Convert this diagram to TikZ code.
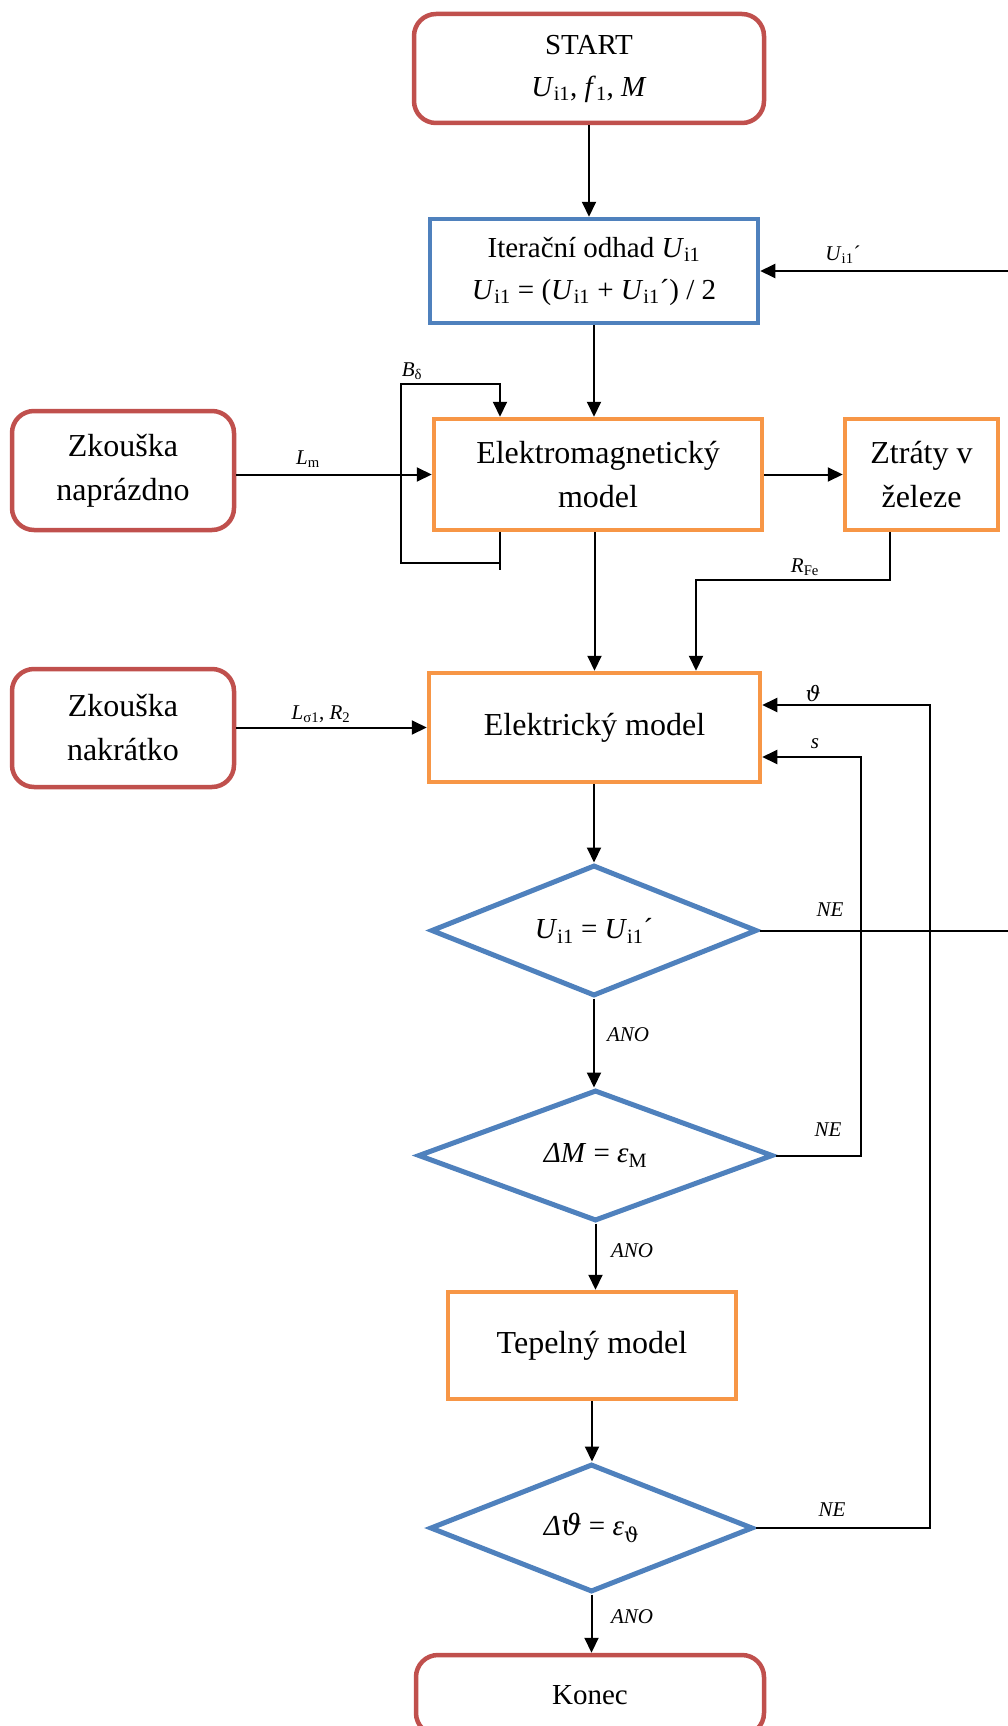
\documentclass[tikz,border=0pt]{standalone}
\usepackage{fontspec}
\setmainfont{Liberation Serif}
\newfontfamily\dvs{DejaVu Serif}
\usetikzlibrary{arrows.meta,shapes.geometric,calc}
\definecolor{cred}{HTML}{C0504D}
\definecolor{cblue}{HTML}{4F81BD}
\definecolor{corange}{HTML}{F79646}
\newcommand\Uii{\textit{U}\textsubscript{i1}}
\newcommand\bigtxt{\fontsize{32}{44}\selectfont}
\newcommand\smtxt{\fontsize{29}{42}\selectfont}
\begin{document}
\begin{tikzpicture}[x=1pt,y=-1pt,
  termbox/.style={draw=cred, line width=4.5pt, rounded corners=22pt, align=center, inner sep=0pt},
  procbox/.style={draw=corange, line width=4.5pt, align=center, inner sep=0pt},
  iterbox/.style={draw=cblue, line width=4.5pt, align=center, inner sep=0pt},
  decision/.style={diamond, draw=cblue, line width=5pt, aspect=2.4, inner sep=0pt, font=\smtxt},
  conn/.style={line width=2pt, -{Triangle[length=15pt,width=14pt]}},
  plainline/.style={line width=2pt},
  lbl/.style={font=\fontsize{21}{24}\selectfont, inner sep=0pt}]
\useasboundingbox (0,0) rectangle (1007,1726);

% nodes
\node[termbox, font=\smtxt, minimum width=350pt, minimum height=109pt] (start) at (589,68.5) {START\\\Uii, \textit{f}\textsubscript{1}, \textit{M}};
\node[iterbox, font=\smtxt, minimum width=328pt, minimum height=104pt] (iter) at (594,271) {Iterační odhad \Uii\\\Uii{} = (\Uii{} + \Uii´) / 2};
\node[termbox, font=\bigtxt, minimum width=222pt, minimum height=119pt] (napr) at (123,470.5) {Zkouška\\naprázdno};
\node[procbox, font=\bigtxt, minimum width=328pt, minimum height=111pt] (em) at (598,474.5) {Elektromagnetický\\model};
\node[procbox, font=\bigtxt, minimum width=153pt, minimum height=111pt] (zt) at (921.5,474.5) {Ztráty v\\železe};
\node[termbox, font=\bigtxt, minimum width=222pt, minimum height=118pt] (nakr) at (123,728) {Zkouška\\nakrátko};
\node[procbox, font=\bigtxt, minimum width=331pt, minimum height=109pt] (el) at (594.5,727.5) {Elektrický model};
\node[decision, minimum width=326pt, minimum height=131pt] (d1) at (594,930.5) {\Uii{} = \Uii´};
\node[decision, minimum width=355pt, minimum height=131pt] (d2) at (595.5,1155.5) {\textit{ΔM} = \textit{ε}\textsubscript{M}};
\node[procbox, font=\bigtxt, minimum width=288pt, minimum height=107pt] (tep) at (592,1345.5) {Tepelný model};
\node[decision, minimum width=323pt, minimum height=128pt] (d3) at (591.5,1528) {\textit{Δ}{\dvs\itshape ϑ} = \textit{ε}\textsubscript{\dvs ϑ}};
\node[termbox, font=\smtxt, minimum width=348pt, minimum height=80pt] (konec) at (590,1695) {Konec};

% helper coordinates
\coordinate (r1) at (1012,0);
\coordinate (bA) at (500,570);
\coordinate (bB) at (500,563);
\coordinate (bC) at (401,563);
\coordinate (bD) at (401,384);
\coordinate (bE) at (500,384);
\coordinate (f1) at (890,580);
\coordinate (f2) at (696,580);
\coordinate (s2) at (861,757);
\coordinate (t2) at (930,705);

% connectors
\draw[conn] (start.south) -- (start.south |- iter.north);
\draw[conn] (iter.south) -- (iter.south |- em.north);
\draw[conn] (d1.east) -- (d1.east -| r1) -- (iter.east -| r1) -- (iter.east);
\draw[plainline] (em.south -| bA) -- (bA);
\draw[conn] (bB) -- (bC) -- (bD) -- (bE) -- (em.north -| bE);
\draw[conn] (em.west -| napr.east) -- (em.west);
\draw[conn] (em.east) -- (zt.west);
\draw[conn] (zt.south -| f1) -- (f1) -- (f2) -- (el.north -| f2);
\draw[conn] (em.south -| el.north) -- (el.north);
\draw[conn] (el.west -| nakr.east) -- (el.west);
\draw[conn] (el.south -| d1.north) -- (d1.north);
\draw[conn] (d1.south) -- (d1.south |- d2.north);
\draw[conn] (d2.east) -- (d2.east -| s2) -- (s2) -- (s2 -| el.east);
\draw[conn] (d2.south) -- (d2.south |- tep.north);
\draw[conn] (tep.south) -- (tep.south |- d3.north);
\draw[conn] (d3.east) -- (d3.east -| t2) -- (t2) -- (t2 -| el.east);
\draw[conn] (d3.south) -- (d3.south |- konec.north);

% labels
\node[lbl] (lU) at (843,255) {\Uii´};
\node[lbl] (lB) at (412,371) {\textit{B}\textsubscript{δ}};
\node[lbl] (lL) at (308,459) {\textit{L}\textsubscript{m}};
\node[lbl] (lR) at (805,567) {\textit{R}\textsubscript{Fe}};
\node[lbl] (lS) at (321,714) {\textit{L}\textsubscript{σ1}, \textit{R}\textsubscript{2}};
\node[lbl] (lT) at (813,693) {{\dvs\itshape ϑ}};
\node[lbl] (ls) at (815,744) {\textit{s}};
\node[lbl] (n1) at (830,910) {\textit{NE}};
\node[lbl] (a1) at (628,1035) {\textit{ANO}};
\node[lbl] (n2) at (828,1130) {\textit{NE}};
\node[lbl] (a2) at (632,1251) {\textit{ANO}};
\node[lbl] (n3) at (832,1510) {\textit{NE}};
\node[lbl] (a3) at (632,1617) {\textit{ANO}};
\end{tikzpicture}
\end{document}
